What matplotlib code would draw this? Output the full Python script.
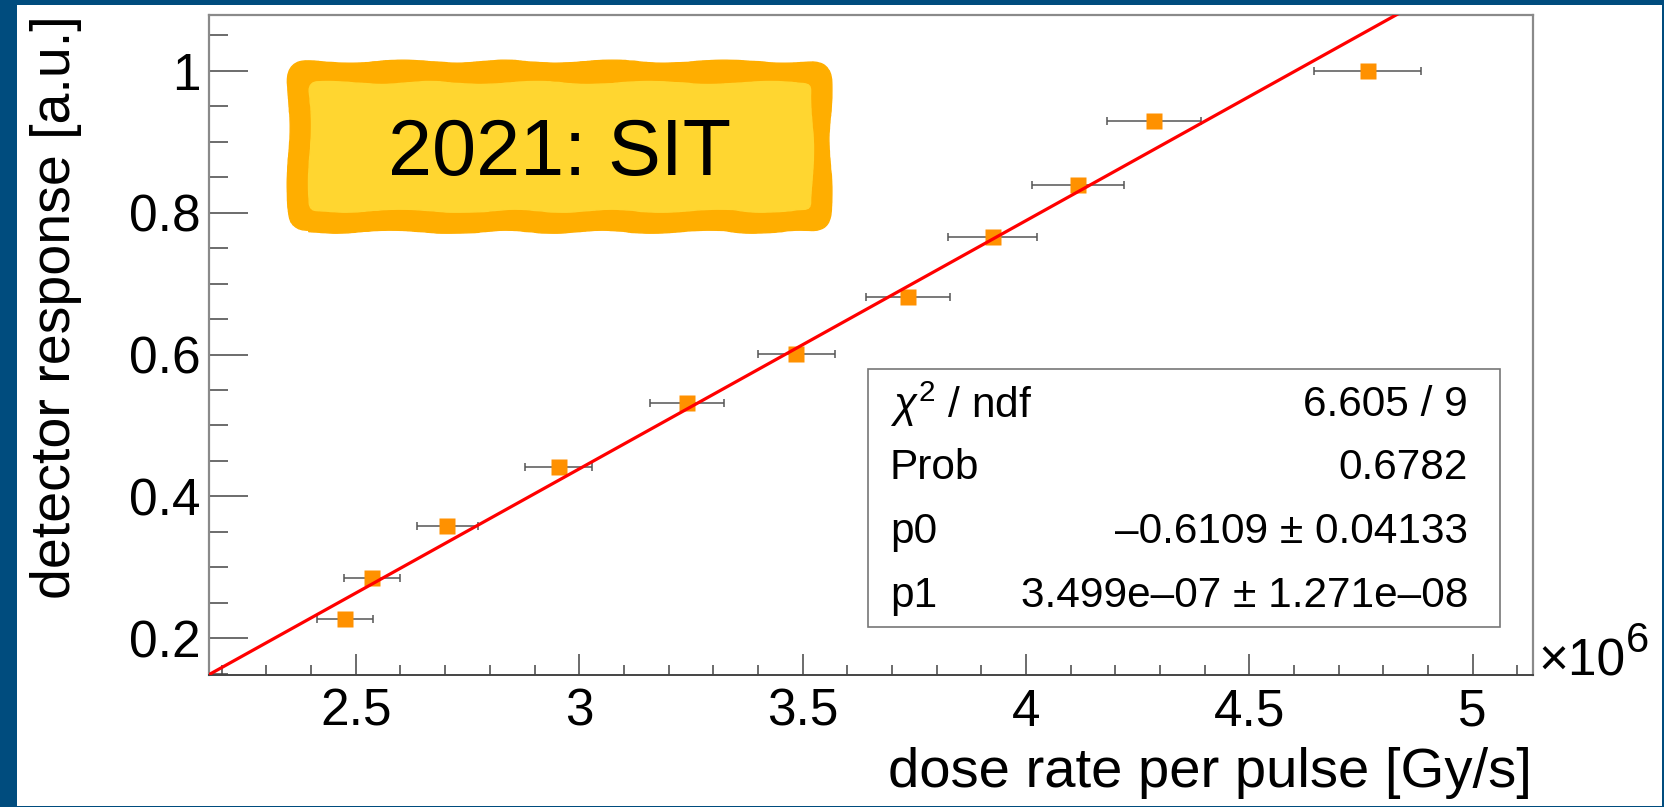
import matplotlib.pyplot as plt
import numpy as np
from matplotlib.patches import Rectangle, FancyBboxPatch
from matplotlib.ticker import MultipleLocator, FuncFormatter
from matplotlib.transforms import IdentityTransform

plt.rcParams['font.family'] = ['Liberation Sans', 'DejaVu Sans']
plt.rcParams['mathtext.fontset'] = 'custom'
plt.rcParams['mathtext.rm'] = 'Liberation Sans'
plt.rcParams['mathtext.it'] = 'Liberation Sans:italic'

# mesures : debit de dose par impulsion [Gy/s] et reponse du detecteur
dose_rate = np.array([2.476, 2.536, 2.705, 2.954, 3.241, 3.486,
                      3.736, 3.926, 4.116, 4.287, 4.765]) * 1e6
dose_rate_err = np.array([0.063, 0.0635, 0.068, 0.0745, 0.083, 0.0856,
                          0.0933, 0.0996, 0.1034, 0.1045, 0.119]) * 1e6
response = np.array([0.227, 0.285, 0.358, 0.441, 0.531, 0.601,
                     0.681, 0.766, 0.839, 0.929, 1.000])

# ajustement lineaire p0 + p1*x
p0, p0_err = -0.6109, 0.04133
p1, p1_err = 3.499e-07, 1.271e-08
chi2, ndf, prob = 6.605, 9, 0.6782

W, H = 1665, 807
fig = plt.figure(figsize=(W / 100, H / 100), dpi=100)
fig.patch.set_facecolor('#004c7e')
fig.add_artist(Rectangle((17 / W, 1 / H), (1662 - 17) / W, (802 - 1) / H,
                         transform=fig.transFigure, facecolor='white',
                         edgecolor='none', zorder=-1))

ax = fig.add_axes([209.3 / W, 132 / H, 1323.2 / W, 660.3 / H])
ax.set_xlim(2.172e6, 5.134e6)
ax.set_ylim(0.1483, 1.079)

ax.errorbar(dose_rate, response, xerr=dose_rate_err, fmt='none',
            ecolor='#555555', elinewidth=1.1, capsize=3, capthick=1.1, zorder=2)
ax.plot(dose_rate, response, 's', color='#ff9100', ms=11.5, mec='none', zorder=3)

xf = np.linspace(2.172e6, 5.134e6, 300)
ax.plot(xf, p0 + p1 * xf, color='#ff0000', lw=2.3, zorder=3.5)

# axes facon ROOT
ax.xaxis.set_major_locator(MultipleLocator(0.5e6))
ax.xaxis.set_minor_locator(MultipleLocator(0.1e6))
ax.yaxis.set_major_locator(MultipleLocator(0.2))
ax.yaxis.set_minor_locator(MultipleLocator(0.05))
ax.xaxis.set_major_formatter(FuncFormatter(lambda v, p: f'{v / 1e6:g}'))
ax.yaxis.set_major_formatter(FuncFormatter(lambda v, p: f'{v:g}'))
ax.tick_params(which='both', direction='in', top=False, right=False, color='#444444', width=1.1)
ax.tick_params(axis='y', which='major', length=28, labelsize=37, pad=6.5)
ax.tick_params(axis='y', which='minor', length=13.7)
ax.tick_params(axis='x', which='major', length=15, labelsize=37, pad=9)
ax.tick_params(axis='x', which='minor', length=7.2)
for s in ['top', 'right', 'left']:
    ax.spines[s].set_color('#8a8a8a')
    ax.spines[s].set_linewidth(1.6)
ax.spines['bottom'].set_color('#444444')
ax.spines['bottom'].set_linewidth(1.4)

fig.text(56 / W, (H - 15) / H, 'detector response [a.u.]', rotation=90,
         ha='center', va='top', fontsize=40)
fig.text(1532 / W, (H - 773) / H, 'dose rate per pulse [Gy/s]',
         ha='right', va='center', fontsize=40.5)
fig.text(1538 / W, (H - 675) / H, '\u00d710', ha='left', va='baseline', fontsize=37)
fig.text(1626 / W, (H - 652) / H, '6', ha='left', va='baseline', fontsize=30)

# boite de statistiques
ax.add_patch(Rectangle((0.4978, 0.0727), 0.4776, 0.3907, transform=ax.transAxes,
                       facecolor='white', edgecolor='#777777', lw=1.2, zorder=4))
rows = [(r'$\chi^{2}$ / ndf', f'{chi2:.3f} / {ndf}'),
        ('Prob', f'{prob:.4f}'),
        ('p0', f'{p0:.4f} \u00b1 {p0_err:.5f}'.replace('-', '\u2013')),
        ('p1', f'{p1:.3e} \u00b1 {p1_err:.3e}'.replace('-', '\u2013'))]
for i, (name, val) in enumerate(rows):
    yy = 0.4095 - i * 0.09647
    ax.text(0.5144, yy, name, transform=ax.transAxes, ha='left', va='center', fontsize=30.5, zorder=5)
    ax.text(0.9512, yy, val, transform=ax.transAxes, ha='right', va='center', fontsize=30.5, zorder=5)

# etiquette jaune
outer = FancyBboxPatch((288.7, 575.3), 541.7, 170, boxstyle='round,pad=0,rounding_size=20',
                       transform=IdentityTransform(), facecolor='#ffae00', edgecolor='#ffae00',
                       lw=1, zorder=6)
inner = FancyBboxPatch((310, 596.3), 502, 127.7, boxstyle='round,pad=0,rounding_size=8',
                       transform=IdentityTransform(), facecolor='#ffd630', edgecolor='#ffd630',
                       lw=1, zorder=7)
for b in (outer, inner):
    b.set_sketch_params(scale=1.5, length=150, randomness=4)
    fig.add_artist(b)
fig.text(560 / W, (H - 154) / H, '2021: SIT', ha='center', va='center', fontsize=57, zorder=8)

fig.savefig('out.png', dpi=100, facecolor=fig.get_facecolor())
